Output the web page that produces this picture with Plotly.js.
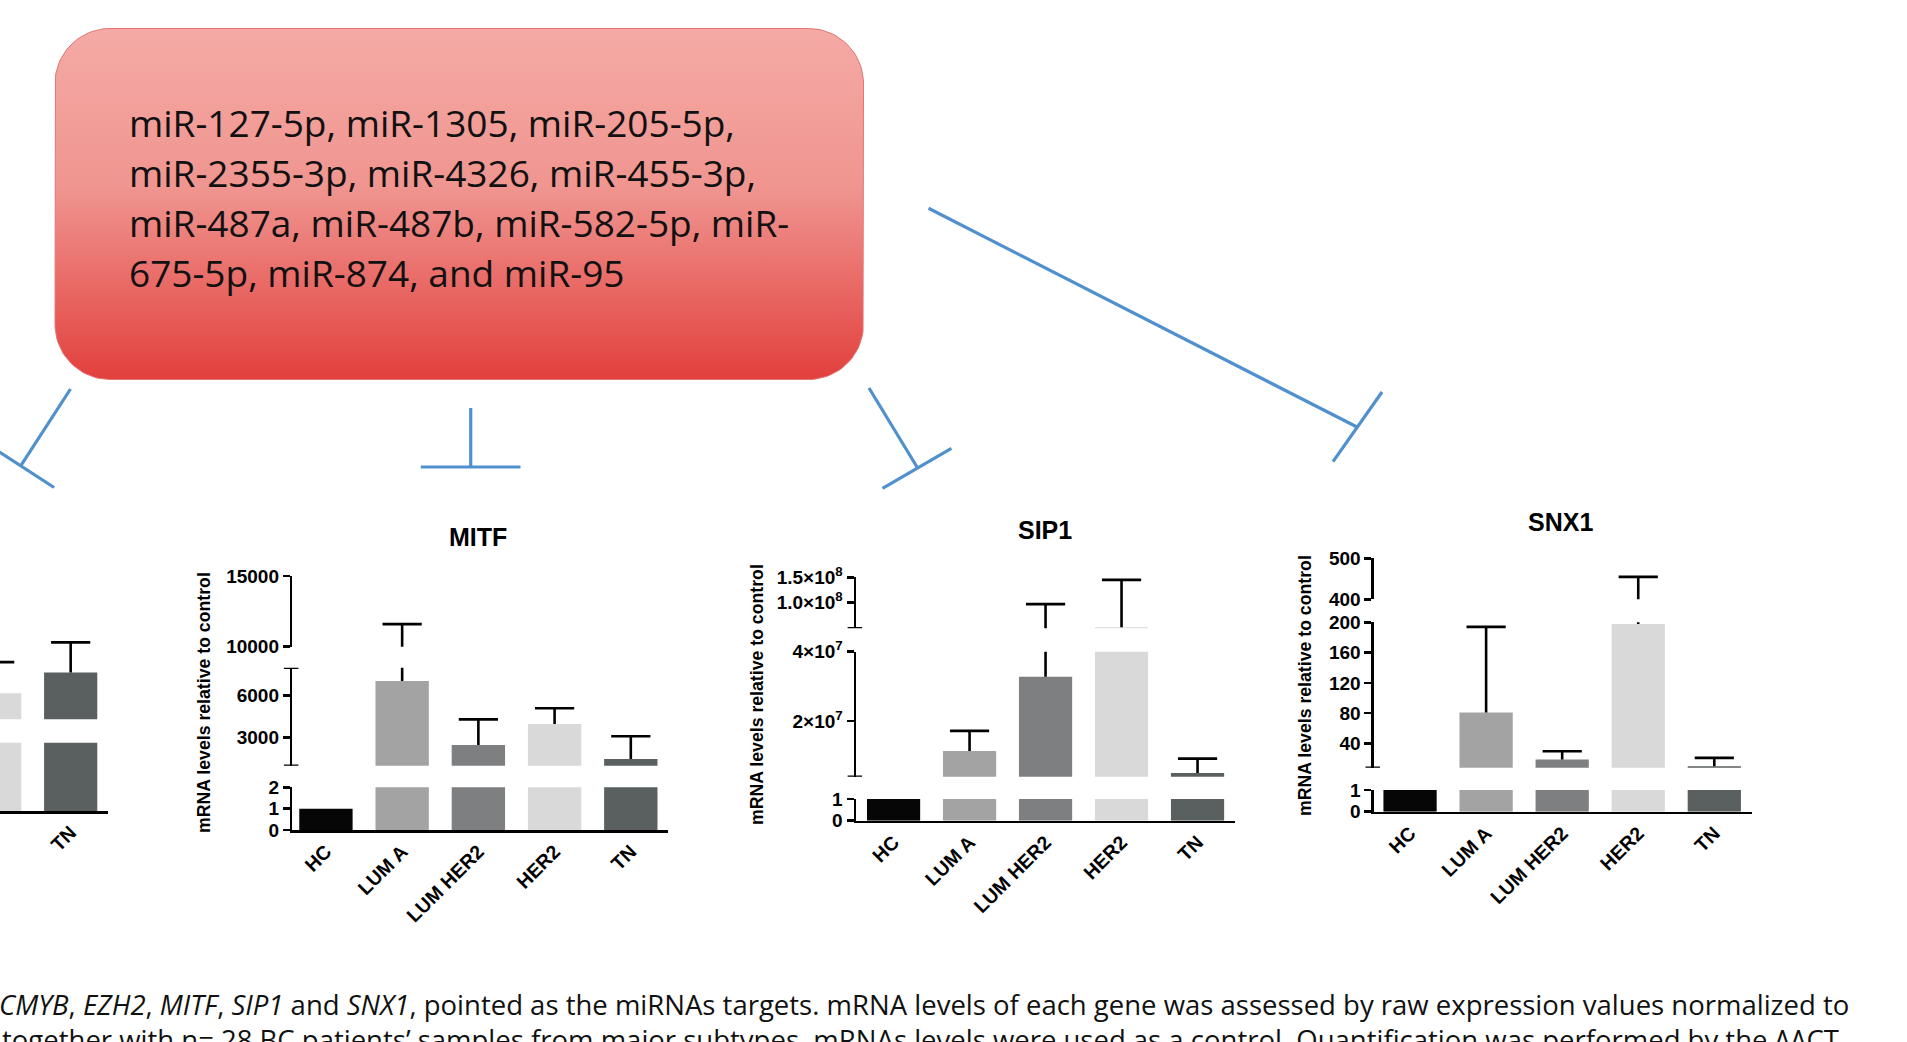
<!DOCTYPE html>
<html>
<head>
<meta charset="utf-8">
<script src="https://cdn.plot.ly/plotly-3.0.1.min.js"></script>
<style>html,body{margin:0;padding:0;background:#fff;overflow:hidden}</style>
</head>
<body>
<div id="chart" style="width:1907px;height:1042px"></div>
<script>
// ---------------- data ----------------
const categories = ['HC', 'LUM A', 'LUM HER2', 'HER2', 'TN'];

const ezh2Mean = [null, null, null, 1080, 1540];
const ezh2Err  = [null, null, null, 690, 670];

const mitfMean = [1, 7050, 2480, 3980, 1480];
const mitfErr  = [null, 4550, 1830, 1120, 1620];

const sip1Mean = [1, 1.14e7, 3.28e7, 5.2e7, 5.1e6];
const sip1Err  = [null, 5.8e6, 6.46e7, 9.3e7, 4.1e6];

const snx1Mean = [1, 81, 18.8, 197.7, 10];
const snx1Err  = [null, 113, 11, 257, 11];

const mitfTickVals = [[0, 1, 2], [3000, 6000], [10000, 15000]];
const mitfTickText = [['0', '1', '2'], ['3000', '6000'], ['10000', '15000']];
const sip1TickVals = [[0, 1], [2e7, 4e7], [1.0e8, 1.5e8]];
const sip1TickText = [['0', '1'], ['2×10<sup>7</sup>', '4×10<sup>7</sup>'], ['1.0×10<sup>8</sup>', '1.5×10<sup>8</sup>']];
const snx1TickVals = [[0, 1], [40, 80, 120, 160, 200], [400, 500]];
const snx1TickText = [['0', '1'], ['40', '80', '120', '160', '200'], ['400', '500']];

const yAxisTitle = 'mRNA levels relative to control';

const mirnaLines = [
  'miR-127-5p, miR-1305, miR-205-5p,',
  'miR-2355-3p, miR-4326, miR-455-3p,',
  'miR-487a, miR-487b, miR-582-5p, miR-',
  '675-5p, miR-874, and miR-95'
];
const captionLine1 = '<i>CMYB</i>, <i>EZH2</i>, <i>MITF</i>, <i>SIP1</i> and <i>SNX1</i>, pointed as the miRNAs targets. mRNA levels of each gene was assessed by raw expression values normalized to';
const captionLine2 = 'together with n= 28 BC patients’ samples from major subtypes. mRNAs levels were used as a control. Quantification was performed by the ΔΔCT';

// ---------------- styles / layout ----------------
const W = 1907, H = 1042;
const fx = p => p / W;
const fy = p => 1 - p / H;
const barColors = ['#060606', '#A3A3A3', '#7E7F80', '#D9D9D9', '#5A5F5F'];
const AX = 'Liberation Sans, Arial, sans-serif';
const BLUE = '#5090CD';
const TICK_SIZE = 19, XTICK_SIZE = 19.5, YLAB_SIZE = 17.7, TITLE_SIZE = 25;

const charts = [
  { mean: ezh2Mean, err: ezh2Err, showY: false, xPx: [0, 108.3], xRange: [3.07, 4.495],
    segs: [ { px: [811, 742.7], range: [0, 2], tv: [], tt: [] },
            { px: [719.3, 629.3], range: [500, 2500], tv: [], tt: [] } ] },
  { mean: mitfMean, err: mitfErr, showY: true, xPx: [292.4, 668], xRange: [-0.44, 4.488],
    title: 'MITF', titlePos: [478, 537], ylabPos: [204, 703],
    segs: [ { px: [830, 787.3], range: [0, 2], tv: mitfTickVals[0], tt: mitfTickText[0] },
            { px: [765.7, 667.7], range: [1000, 8000], tv: mitfTickVals[1], tt: mitfTickText[1], capLow: true, capHigh: true },
            { px: [646.7, 576], range: [10000, 15000], tv: mitfTickVals[2], tt: mitfTickText[2] } ] },
  { mean: sip1Mean, err: sip1Err, showY: true, xPx: [856.1, 1235], xRange: [-0.493, 4.493],
    title: 'SIP1', titlePos: [1045, 530], ylabPos: [757, 695],
    segs: [ { px: [820.7, 799], range: [0, 1], tv: sip1TickVals[0], tt: sip1TickText[0] },
            { px: [776.7, 651.7], range: [4e6, 4e7], tv: sip1TickVals[1], tt: sip1TickText[1], capLow: true },
            { px: [628.3, 577.3], range: [5e7, 1.5e8], tv: sip1TickVals[2], tt: sip1TickText[2], capLow: true } ] },
  { mean: snx1Mean, err: snx1Err, showY: true, xPx: [1374, 1751.8], xRange: [-0.474, 4.493],
    title: 'SNX1', titlePos: [1560.7, 521.5], ylabPos: [1305, 686],
    segs: [ { px: [811.7, 790], range: [0, 1], tv: snx1TickVals[0], tt: snx1TickText[0] },
            { px: [767.7, 622.3], range: [8, 200], tv: snx1TickVals[1], tt: snx1TickText[1], capLow: true },
            { px: [599.3, 558.3], range: [400, 500], tv: snx1TickVals[2], tt: snx1TickText[2] } ] }
];

const connectors = [
  { stem: [[70.5, 389], [20.7, 465.8]], bar: [[-12.7, 444.1], [54.1, 487.5]] },
  { stem: [[470.7, 408], [470.7, 467]], bar: [[420.8, 467], [520.5, 467]] },
  { stem: [[869, 388], [917, 467]], bar: [[882.5, 488.3], [951.4, 448.3]] },
  { stem: [[928.5, 208.3], [1357, 427]], bar: [[1382, 392], [1333, 461.7]] }
];

const box = { x0: 55, y0: 28.5, x1: 863.5, y1: 379.5, r: 55 };
const mirnaLineY = [122, 172, 222.5, 272.5];

const layout = {
  width: W, height: H,
  margin: { l: 0, r: 0, t: 0, b: 0 },
  paper_bgcolor: '#ffffff', plot_bgcolor: 'rgba(0,0,0,0)',
  showlegend: false,
  shapes: [], annotations: []
};
const traces = [];

function roundRect(b, n) {
  const xs = [], ys = [];
  const c = [[b.x1 - b.r, b.y0 + b.r, -90, 0], [b.x1 - b.r, b.y1 - b.r, 0, 90],
             [b.x0 + b.r, b.y1 - b.r, 90, 180], [b.x0 + b.r, b.y0 + b.r, 180, 270]];
  c.forEach(([cx, cy, a0, a1]) => {
    for (let i = 0; i <= n; i++) {
      const a = (a0 + (a1 - a0) * i / n) * Math.PI / 180;
      xs.push(cx + b.r * Math.cos(a)); ys.push(cy + b.r * Math.sin(a));
    }
  });
  xs.push(xs[0]); ys.push(ys[0]);
  return { xs, ys };
}
layout.xaxis20 = { domain: [0, 1], range: [0, W], visible: false, fixedrange: true, anchor: 'y20' };
layout.yaxis20 = { domain: [0, 1], range: [H, 0], visible: false, fixedrange: true, anchor: 'x20' };
const rr = roundRect(box, 24);
traces.push({
  type: 'scatter', mode: 'lines', x: rr.xs, y: rr.ys, xaxis: 'x20', yaxis: 'y20',
  fill: 'toself', line: { color: '#E37571', width: 1 },
  fillgradient: { type: 'vertical', start: box.y0, stop: box.y1,
    colorscale: [[0, '#F5AAA5'], [0.45, '#F09590'], [1, '#E2403D']] },
  hoverinfo: 'skip'
});

let xi = 1, yi = 1;
charts.forEach(c => {
  const xRef = xi === 1 ? 'x' : 'x' + xi;
  const xName = xi === 1 ? 'xaxis' : 'xaxis' + xi;
  const firstYRef = yi === 1 ? 'y' : 'y' + yi;
  layout[xName] = {
    domain: [fx(c.xPx[0]), fx(c.xPx[1])], range: c.xRange, type: 'category',
    categoryorder: 'array', categoryarray: categories, anchor: firstYRef,
    showline: true, linewidth: 2.6, linecolor: '#000', ticks: '', tickangle: -45,
    tickfont: { family: AX, size: XTICK_SIZE, color: '#000', weight: 'bold' },
    showgrid: false, zeroline: false, fixedrange: true
  };
  const tops = c.mean.map((m, i) => (c.err[i] == null || m == null) ? null : m + c.err[i]);
  const zeros = c.mean.map(() => 0);
  c.segs.forEach(s => {
    const yRef = yi === 1 ? 'y' : 'y' + yi;
    const yName = yi === 1 ? 'yaxis' : 'yaxis' + yi;
    layout[yName] = {
      domain: [fy(s.px[0]), fy(s.px[1])], range: s.range, anchor: xRef,
      showline: c.showY, linewidth: 2.6, linecolor: '#000',
      ticks: c.showY ? 'outside' : '', ticklen: 7, tickwidth: 2.6, tickcolor: '#000',
      tickmode: 'array', tickvals: s.tv, ticktext: s.tt, showticklabels: c.showY,
      tickfont: { family: AX, size: TICK_SIZE, color: '#000', weight: 'bold' },
      showgrid: false, zeroline: false, fixedrange: true
    };
    traces.push({
      type: 'bar', x: categories, y: c.mean, xaxis: xRef, yaxis: yRef, width: 0.7,
      marker: { color: barColors, line: { width: 0 } }, hoverinfo: 'skip'
    });
    traces.push({
      type: 'scatter', mode: 'markers', x: categories, y: tops, xaxis: xRef, yaxis: yRef,
      marker: { symbol: 'line-ew', size: 28, color: '#000', line: { width: 2.6, color: '#000' } },
      error_y: { type: 'data', symmetric: false, array: zeros, arrayminus: c.err,
                 width: 0, thickness: 2.6, color: '#000' },
      hoverinfo: 'skip'
    });
    const caps = [];
    if (s.capLow) caps.push(s.range[0]);
    if (s.capHigh) caps.push(s.range[1]);
    caps.forEach(v => layout.shapes.push({
      type: 'line', xref: 'paper', yref: yRef,
      x0: fx(c.xPx[0] - 8.5), x1: fx(c.xPx[0] + 6), y0: v, y1: v,
      line: { color: '#000', width: 2.6 }
    }));
    yi++;
  });
  if (c.title) {
    layout.annotations.push({
      xref: 'paper', yref: 'paper', x: fx(c.titlePos[0]), y: fy(c.titlePos[1]),
      xanchor: 'center', yanchor: 'middle', showarrow: false,
      text: '<b>' + c.title + '</b>', font: { family: AX, size: TITLE_SIZE, color: '#000' }
    });
    layout.annotations.push({
      xref: 'paper', yref: 'paper', x: fx(c.ylabPos[0]), y: fy(c.ylabPos[1]),
      xanchor: 'center', yanchor: 'middle', showarrow: false, textangle: -90,
      text: '<b>' + yAxisTitle + '</b>', font: { family: AX, size: YLAB_SIZE, color: '#000' }
    });
  }
  xi++;
});

connectors.forEach(k => {
  [k.stem, k.bar].forEach(seg => layout.shapes.push({
    type: 'line', xref: 'paper', yref: 'paper',
    x0: fx(seg[0][0]), y0: fy(seg[0][1]), x1: fx(seg[1][0]), y1: fy(seg[1][1]),
    line: { color: BLUE, width: 3.2 }
  }));
});

mirnaLines.forEach((t, i) => layout.annotations.push({
  xref: 'paper', yref: 'paper', x: fx(127), y: fy(mirnaLineY[i]), xanchor: 'left', yanchor: 'middle',
  align: 'left', showarrow: false, text: t,
  font: { family: 'Open Sans, sans-serif', size: 37, color: '#111' }
}));
layout.annotations.push({
  xref: 'paper', yref: 'paper', x: fx(-3), y: fy(1004), xanchor: 'left', yanchor: 'middle',
  align: 'left', showarrow: false, text: captionLine1,
  font: { family: 'Open Sans, sans-serif', size: 27.5, color: '#111' }
});
layout.annotations.push({
  xref: 'paper', yref: 'paper', x: fx(0), y: fy(1039), xanchor: 'left', yanchor: 'middle',
  align: 'left', showarrow: false, text: captionLine2,
  font: { family: 'Open Sans, sans-serif', size: 27.5, color: '#111' }
});

Plotly.newPlot('chart', traces, layout, { staticPlot: true, displayModeBar: false });
</script>
</body>
</html>
